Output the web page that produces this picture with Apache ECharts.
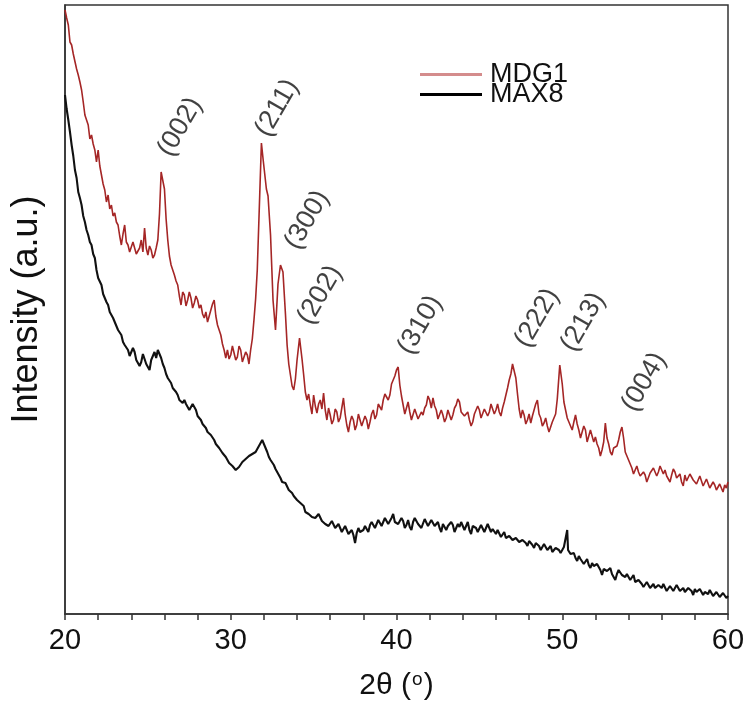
<!DOCTYPE html>
<html>
<head>
<meta charset="utf-8">
<script src="https://cdn.jsdelivr.net/npm/echarts@6/dist/echarts.min.js"></script>
<style>html,body{margin:0;padding:0;background:#fff}#c{width:750px;height:710px}</style>
</head>
<body>
<div id="c"></div>
<script>
// 2θ tick labels
const xTicks = [20, 30, 40, 50, 60];
// MDG1 pattern: [2θ, intensity (a.u.)]
const mdg1 = [
[20.0,604],[20.1,596],[20.2,589],[20.3,572],[20.4,569],[20.5,560],[20.6,559],[20.7,545],[20.8,539],[20.9,532],
[21.0,524],[21.1,512],[21.2,499],[21.3,500],[21.4,489],[21.5,475],[21.6,479],[21.7,470],[21.8,464],[21.9,452],
[22.0,464],[22.1,448],[22.2,439],[22.3,430],[22.4,424],[22.5,412],[22.6,419],[22.7,405],[22.8,409],[22.9,398],
[23.0,401],[23.1,392],[23.2,389],[23.3,378],[23.4,369],[23.5,380],[23.6,389],[23.7,372],[23.8,369],[23.9,362],
[24.0,364],[24.1,372],[24.2,366],[24.3,360],[24.4,358],[24.5,366],[24.6,374],[24.7,362],[24.8,386],[24.9,366],
[25.0,359],[25.1,368],[25.2,364],[25.3,356],[25.4,359],[25.5,366],[25.6,374],[25.7,400],[25.8,442],[25.9,444],
[26.0,425],[26.1,395],[26.2,374],[26.3,358],[26.4,349],[26.5,344],[26.6,339],[26.7,333],[26.8,329],[26.9,318],
[27.0,309],[27.1,322],[27.2,319],[27.3,308],[27.4,314],[27.5,322],[27.6,316],[27.7,306],[27.8,311],[27.9,318],
[28.0,314],[28.1,306],[28.2,309],[28.3,300],[28.4,296],[28.5,302],[28.6,292],[28.7,298],[28.8,304],[28.9,310],
[29.0,314],[29.1,298],[29.2,289],[29.3,284],[29.4,279],[29.5,270],[29.6,264],[29.7,256],[29.8,264],[29.9,255],
[30.0,259],[30.1,268],[30.2,266],[30.3,254],[30.4,257],[30.5,268],[30.6,264],[30.7,252],[30.8,254],[30.9,262],
[31.0,259],[31.1,250],[31.2,264],[31.3,275],[31.4,294],[31.5,315],[31.6,344],[31.75,420],[31.85,471],[31.95,455],
[32.05,440],[32.15,425],[32.25,418],[32.4,379],[32.55,314],[32.7,284],[32.85,330],[33.0,349],[33.15,342],[33.3,300],
[33.4,269],[33.5,250],[33.6,239],[33.7,228],[33.8,224],[33.9,235],[34.0,254],[34.15,276],[34.3,255],[34.4,239],
[34.5,222],[34.6,214],[34.7,220],[34.8,209],[34.9,200],[35.0,219],[35.1,208],[35.2,201],[35.3,210],[35.4,214],
[35.5,205],[35.6,221],[35.7,204],[35.8,194],[35.9,206],[36.0,199],[36.1,190],[36.2,194],[36.3,205],[36.4,202],
[36.5,192],[36.6,196],[36.7,206],[36.8,216],[36.9,200],[37.0,189],[37.1,182],[37.2,192],[37.3,198],[37.4,194],
[37.5,184],[37.6,189],[37.7,200],[37.8,198],[37.9,188],[38.0,189],[38.1,198],[38.2,194],[38.3,185],[38.4,192],
[38.5,200],[38.6,204],[38.7,195],[38.8,199],[38.9,210],[39.0,209],[39.1,204],[39.2,214],[39.3,220],[39.4,222],
[39.5,214],[39.6,219],[39.7,230],[39.8,234],[39.9,238],[40.0,244],[40.1,247],[40.2,229],[40.3,218],[40.4,209],
[40.5,200],[40.6,206],[40.7,212],[40.8,202],[40.9,194],[41.0,196],[41.1,205],[41.2,204],[41.3,195],[41.4,194],
[41.5,202],[41.6,199],[41.7,206],[41.8,209],[41.9,218],[42.0,214],[42.1,206],[42.2,216],[42.3,208],[42.4,204],
[42.5,195],[42.6,196],[42.7,204],[42.8,199],[42.9,192],[43.0,196],[43.1,204],[43.2,202],[43.3,194],[43.4,199],
[43.5,206],[43.6,209],[43.7,215],[43.8,212],[43.9,202],[44.0,204],[44.1,198],[44.2,196],[44.3,202],[44.4,194],
[44.5,188],[44.6,192],[44.7,200],[44.8,199],[44.9,208],[45.0,204],[45.1,196],[45.2,196],[45.3,205],[45.4,204],
[45.5,198],[45.6,202],[45.7,210],[45.8,209],[45.9,200],[46.0,204],[46.1,210],[46.2,202],[46.3,198],[46.4,206],
[46.5,212],[46.6,219],[46.7,226],[46.8,234],[46.9,240],[47.0,250],[47.1,252],[47.2,236],[47.3,220],[47.4,205],
[47.5,196],[47.6,204],[47.7,199],[47.8,190],[47.9,194],[48.0,200],[48.1,191],[48.2,198],[48.3,204],[48.4,210],
[48.5,214],[48.6,200],[48.7,196],[48.8,188],[48.9,191],[49.0,196],[49.1,188],[49.2,182],[49.3,184],[49.4,192],
[49.5,190],[49.6,200],[49.7,215],[49.85,249],[50.0,230],[50.1,212],[50.2,204],[50.3,196],[50.4,194],[50.5,188],
[50.6,184],[50.7,192],[50.8,199],[50.9,190],[51.0,184],[51.1,176],[51.2,177],[51.3,188],[51.4,184],[51.5,172],
[51.6,174],[51.7,184],[51.8,182],[51.9,172],[52.0,177],[52.1,170],[52.2,166],[52.3,158],[52.4,164],[52.5,172],
[52.6,191],[52.7,176],[52.8,170],[52.9,162],[53.0,159],[53.1,166],[53.2,164],[53.3,168],[53.4,174],[53.5,182],
[53.6,187],[53.7,176],[53.8,162],[53.9,158],[54.0,154],[54.1,150],[54.2,146],[54.3,140],[54.4,144],[54.5,148],
[54.6,142],[54.7,138],[54.8,136],[54.9,142],[55.0,139],[55.1,132],[55.2,134],[55.3,141],[55.4,139],[55.5,146],
[55.6,144],[55.7,138],[55.8,142],[55.9,148],[56.0,146],[56.1,140],[56.2,144],[56.3,138],[56.4,136],[56.5,132],
[56.6,139],[56.7,145],[56.8,142],[56.9,136],[57.0,136],[57.1,140],[57.2,132],[57.3,128],[57.4,139],[57.5,133],
[57.6,134],[57.7,140],[57.8,142],[57.9,134],[58.0,136],[58.1,130],[58.2,132],[58.3,138],[58.4,136],[58.5,128],
[58.6,129],[58.7,135],[58.8,134],[58.9,126],[59.0,127],[59.1,132],[59.2,129],[59.3,124],[59.4,124],[59.5,130],
[59.6,126],[59.7,122],[59.8,129],[59.9,126],[60.0,132]
];
// MAX8 pattern: [2θ, intensity (a.u.)]
const max8 = [
[20.0,519],[20.1,505],[20.2,494],[20.3,482],[20.4,469],[20.5,458],[20.6,444],[20.7,436],[20.8,422],[20.9,416],
[21.0,409],[21.1,398],[21.2,392],[21.3,384],[21.4,379],[21.5,372],[21.6,369],[21.7,360],[21.8,356],[21.9,344],
[22.0,336],[22.1,334],[22.2,329],[22.3,320],[22.4,316],[22.5,312],[22.6,309],[22.7,302],[22.8,302],[22.9,296],
[23.0,294],[23.1,288],[23.2,284],[23.3,286],[23.4,279],[23.5,272],[23.6,269],[23.7,268],[23.8,264],[23.9,258],
[24.0,259],[24.1,266],[24.2,262],[24.3,254],[24.4,256],[24.5,248],[24.6,252],[24.7,260],[24.8,259],[24.9,250],
[25.0,249],[25.1,244],[25.2,254],[25.3,258],[25.4,262],[25.5,256],[25.6,264],[25.7,260],[25.8,256],[25.9,250],
[26.0,246],[26.1,240],[26.2,236],[26.3,234],[26.4,231],[26.5,226],[26.6,224],[26.7,222],[26.8,219],[26.9,214],
[27.0,216],[27.1,211],[27.2,214],[27.3,210],[27.4,209],[27.5,204],[27.6,206],[27.7,210],[27.8,212],[27.9,204],
[28.0,198],[28.1,196],[28.2,194],[28.3,190],[28.4,188],[28.5,186],[28.6,182],[28.7,180],[28.8,179],[28.9,177],
[29.0,174],[29.1,170],[29.2,169],[29.3,166],[29.4,164],[29.5,161],[29.6,159],[29.7,157],[29.8,156],[29.9,151],
[30.0,152],[30.1,148],[30.2,148],[30.3,144],[30.4,146],[30.5,147],[30.6,148],[30.7,152],[30.8,152],[30.9,155],
[31.0,154],[31.1,158],[31.2,156],[31.3,160],[31.4,159],[31.5,162],[31.6,164],[31.7,168],[31.8,171],[31.9,174],
[32.0,170],[32.1,166],[32.2,162],[32.3,157],[32.4,154],[32.5,152],[32.6,149],[32.7,145],[32.8,142],[32.9,140],
[33.0,136],[33.1,132],[33.2,134],[33.3,131],[33.4,129],[33.5,124],[33.6,122],[33.7,121],[33.8,118],[33.9,116],
[34.0,114],[34.1,112],[34.2,111],[34.3,110],[34.4,108],[34.5,102],[34.6,104],[34.7,100],[34.8,102],[34.9,97],
[35.0,99],[35.1,96],[35.2,96],[35.3,100],[35.4,98],[35.5,93],[35.6,94],[35.7,90],[35.8,92],[35.9,88],
[36.0,90],[36.1,93],[36.2,91],[36.3,86],[36.4,87],[36.5,90],[36.6,86],[36.7,82],[36.8,84],[36.9,88],
[37.0,86],[37.1,80],[37.2,82],[37.3,84],[37.4,79],[37.5,71],[37.6,81],[37.7,86],[37.8,82],[37.9,80],
[38.0,84],[38.1,88],[38.2,85],[38.3,82],[38.4,89],[38.5,92],[38.6,90],[38.7,86],[38.8,88],[38.9,94],
[39.0,92],[39.1,88],[39.2,89],[39.3,96],[39.4,94],[39.5,90],[39.6,92],[39.7,96],[39.8,100],[39.9,92],
[40.0,94],[40.1,90],[40.2,91],[40.3,96],[40.4,93],[40.5,86],[40.6,89],[40.7,94],[40.8,87],[40.9,84],
[41.0,92],[41.1,96],[41.2,95],[41.3,90],[41.4,90],[41.5,86],[41.6,88],[41.7,95],[41.8,93],[41.9,88],
[42.0,90],[42.1,94],[42.2,94],[42.3,88],[42.4,88],[42.5,92],[42.6,86],[42.7,82],[42.8,90],[42.9,92],
[43.0,84],[43.1,88],[43.2,87],[43.3,92],[43.4,89],[43.5,82],[43.6,84],[43.7,90],[43.8,87],[43.9,92],
[44.0,90],[44.1,84],[44.2,86],[44.3,92],[44.4,84],[44.5,80],[44.6,88],[44.7,90],[44.8,86],[44.9,82],
[45.0,83],[45.1,89],[45.2,87],[45.3,82],[45.4,84],[45.5,90],[45.6,88],[45.7,82],[45.8,85],[45.9,84],
[46.0,80],[46.1,84],[46.2,82],[46.3,77],[46.4,79],[46.5,82],[46.6,76],[46.7,74],[46.8,78],[46.9,80],
[47.0,74],[47.1,72],[47.2,76],[47.3,78],[47.4,72],[47.5,70],[47.6,74],[47.7,76],[47.8,71],[47.9,68],
[48.0,73],[48.1,75],[48.2,69],[48.3,66],[48.4,71],[48.5,73],[48.6,68],[48.7,64],[48.8,66],[48.9,70],
[49.0,68],[49.1,64],[49.2,65],[49.3,68],[49.4,62],[49.5,60],[49.6,66],[49.7,68],[49.8,64],[49.9,61],
[50.0,63],[50.1,67],[50.2,66],[50.3,84],[50.35,64],[50.4,62],[50.5,60],[50.6,58],[50.7,61],[50.8,56],
[50.9,53],[51.0,58],[51.1,55],[51.2,54],[51.3,50],[51.4,52],[51.5,55],[51.6,49],[51.7,46],[51.8,51],
[51.9,48],[52.0,46],[52.1,50],[52.2,48],[52.3,44],[52.4,39],[52.5,45],[52.6,46],[52.7,43],[52.8,42],
[52.9,46],[53.0,40],[53.1,38],[53.2,34],[53.3,40],[53.4,44],[53.5,42],[53.6,39],[53.7,41],[53.8,37],
[53.9,40],[54.0,38],[54.1,34],[54.2,36],[54.3,39],[54.4,32],[54.5,30],[54.6,34],[54.7,33],[54.8,30],
[54.9,27],[55.0,28],[55.1,32],[55.2,31],[55.3,26],[55.4,28],[55.5,30],[55.6,26],[55.7,24],[55.8,29],
[55.9,27],[56.0,26],[56.1,30],[56.2,28],[56.3,23],[56.4,24],[56.5,28],[56.6,27],[56.7,23],[56.8,25],
[56.9,29],[57.0,28],[57.1,23],[57.2,24],[57.3,26],[57.4,22],[57.5,20],[57.6,26],[57.7,24],[57.8,23],
[57.9,19],[58.0,25],[58.1,22],[58.2,21],[58.3,25],[58.4,24],[58.5,19],[58.6,22],[58.7,20],[58.8,20],
[58.9,24],[59.0,23],[59.1,18],[59.2,19],[59.3,22],[59.4,22],[59.5,17],[59.6,18],[59.7,21],[59.8,20],
[59.9,16],[60.0,18]
];
// Reflection labels and where they sit (2θ, intensity)
const peakNames = ['(002)', '(211)', '(300)', '(202)', '(310)', '(222)', '(213)', '(004)'];
const peakLabelX = [26.94, 32.79, 34.6, 35.38, 41.42, 48.48, 51.25, 54.93];
const peakLabelY = [487, 506, 394, 319, 289, 296, 292, 232];

const FONT = 'Liberation Sans, Arial, Helvetica, sans-serif';
const chart = echarts.init(document.getElementById('c'), null, {renderer: 'canvas'});
const labelData = peakNames.map((n, i) => ({value: [peakLabelX[i], peakLabelY[i]], name: n}));

chart.setOption({
  animation: false,
  backgroundColor: '#fff',
  grid: {left: 65, right: 22, top: 5, bottom: 96, containLabel: false, outerBoundsMode: 'none',
         show: true, borderColor: '#333', borderWidth: 1.5, backgroundColor: 'transparent'},
  legend: {
    orient: 'vertical', left: 415, top: 56, itemGap: -7, icon: 'rect', itemWidth: 62, itemHeight: 3,
    textStyle: {fontFamily: FONT, fontSize: 27, color: '#111', padding: [0, 0, 0, 3]},
    data: [
      {name: 'MDG1', itemStyle: {color: '#d48c8c'}},
      {name: 'MAX8', itemStyle: {color: '#000'}}
    ]
  },
  xAxis: {
    type: 'value', min: 20, max: 60, interval: 2,
    name: '{a|2θ (}{s|o}{a|)}', nameLocation: 'middle', nameGap: 56,
    nameTextStyle: {rich: {a: {fontFamily: FONT, fontSize: 30, color: '#111'}, s: {fontFamily: FONT, fontSize: 19, color: '#111', verticalAlign: 'top', padding: [0, 1, 12, 1]}}},
    axisLine: {lineStyle: {color: '#333', width: 1.5}},
    axisTick: {show: true, inside: false, length: 6, lineStyle: {color: '#333', width: 1.5}},
    axisLabel: {
      fontFamily: FONT, fontSize: 29, color: '#111', margin: 12,
      formatter: v => (xTicks.indexOf(v) >= 0 ? String(v) : '')
    },
    splitLine: {show: false}
  },
  yAxis: {
    type: 'value', min: 0, max: 609,
    name: 'Intensity (a.u.)', nameLocation: 'middle', nameGap: 20, nameRotate: 90,
    nameTextStyle: {fontFamily: FONT, fontSize: 36, color: '#111'},
    axisLine: {show: true, lineStyle: {color: '#333', width: 1.5}},
    axisTick: {show: false}, axisLabel: {show: false}, splitLine: {show: false}
  },
  series: [
    {name: 'MDG1', type: 'line', data: mdg1, showSymbol: false, symbol: 'none',
     lineStyle: {color: '#a52626', width: 1.6}, itemStyle: {color: '#a52626'}, z: 3},
    {name: 'MAX8', type: 'line', data: max8, showSymbol: false, symbol: 'none',
     lineStyle: {color: '#111', width: 2.1}, itemStyle: {color: '#111'}, z: 2},
    {name: 'labels', type: 'scatter', data: labelData, symbolSize: 0, silent: true,
     label: {show: true, position: 'inside', rotate: 60, formatter: p => p.name,
             fontFamily: FONT, fontSize: 27, color: '#111'}, z: 4}
  ]
});
</script>
</body>
</html>
